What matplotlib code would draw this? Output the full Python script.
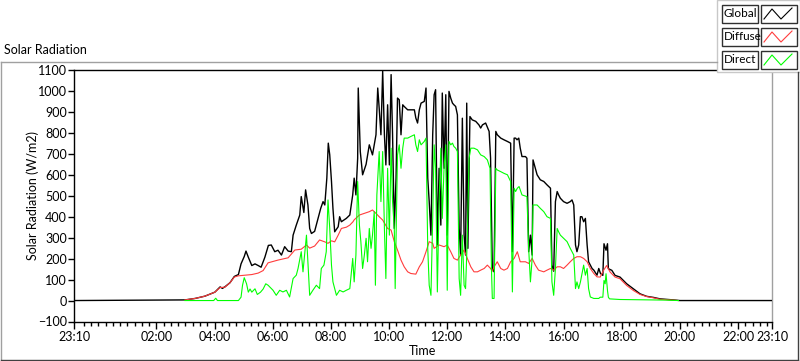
import numpy as np
import matplotlib
matplotlib.use("Agg")
import matplotlib.pyplot as plt
from matplotlib.patches import Rectangle

plt.rcParams['font.family'] = ['Lato', 'DejaVu Sans']

# times are clock hours of the day, values in W/m2
global_t = [2.98, 3.33, 3.67, 4.01, 4.19, 4.27, 4.36, 4.53, 4.68, 4.82, 4.91, 5.02, 5.08, 5.16,
            5.28, 5.39, 5.50, 5.60, 5.73, 5.85, 5.95, 6.07, 6.18, 6.30, 6.41, 6.53, 6.64, 6.70,
            6.81, 6.93, 6.98, 7.07, 7.13, 7.21, 7.27, 7.33, 7.44, 7.56, 7.65, 7.73, 7.79, 7.86,
            7.91, 7.96, 8.02, 8.07, 8.13, 8.25, 8.30, 8.36, 8.53, 8.65, 8.75, 8.80, 8.86, 8.92,
            8.94, 9.01, 9.09, 9.21, 9.32, 9.43, 9.55, 9.61, 9.66, 9.72, 9.78, 9.84, 9.89, 9.95,
            10.01, 10.07, 10.12, 10.18, 10.24, 10.29, 10.35, 10.41, 10.47, 10.52, 10.64, 10.75,
            10.87, 10.92, 10.98, 11.04, 11.10, 11.21, 11.27, 11.33, 11.38, 11.44, 11.50, 11.55,
            11.60, 11.66, 11.72, 11.78, 11.83, 11.89, 11.95, 12.00, 12.06, 12.12, 12.18, 12.23,
            12.29, 12.35, 12.41, 12.46, 12.52, 12.58, 12.63, 12.67, 12.71, 12.78, 12.86, 12.98,
            13.09, 13.15, 13.21, 13.32, 13.44, 13.49, 13.55, 13.61, 13.67, 13.72, 13.84, 13.95,
            14.07, 14.18, 14.24, 14.30, 14.35, 14.40, 14.46, 14.51, 14.57, 14.69, 14.74, 14.80,
            14.86, 14.92, 14.95, 15.03, 15.09, 15.20, 15.32, 15.43, 15.55, 15.60, 15.66, 15.72,
            15.78, 15.83, 15.89, 16.00, 16.12, 16.23, 16.29, 16.35, 16.41, 16.46, 16.52, 16.58,
            16.63, 16.69, 16.75, 16.81, 16.86, 16.92, 16.98, 17.04, 17.15, 17.21, 17.27, 17.35,
            17.39, 17.46, 17.51, 17.54, 17.66, 17.77, 17.94, 18.17, 18.40, 18.63, 18.86, 19.09,
            19.32, 19.78, 20.00]
global_v = [3, 10, 21, 40, 65, 58, 66, 85, 115, 124, 175, 210, 236, 207,
            167, 175, 167, 159, 207, 263, 265, 233, 240, 217, 257, 236, 233, 312,
            360, 408, 496, 420, 528, 456, 344, 320, 330, 392, 440, 472, 456, 584,
            751, 695, 568, 440, 328, 352, 400, 376, 392, 408, 504, 584, 504, 679,
            1014, 711, 600, 650, 743, 695, 791, 1014, 918, 791, 1094, 791, 647, 934,
            647, 1078, 791, 344, 584, 966, 958, 791, 934, 926, 910, 910,
            910, 871, 847, 910, 942, 950, 1014, 584, 472, 312, 791, 982,
            1006, 265, 631, 360, 990, 631, 982, 312, 998, 966, 942, 934,
            926, 886, 344, 217, 870, 312, 217, 942, 249, 878, 862, 855,
            838, 823, 838, 847, 807, 679, 153, 137, 807, 791, 775, 767,
            759, 751, 233, 775, 775, 767, 775, 727, 687, 687, 679, 233,
            312, 217, 671, 630, 600, 576, 568, 552, 536, 169, 140, 472,
            520, 504, 488, 472, 464, 472, 480, 456, 265, 233, 265, 400,
            400, 376, 392, 265, 185, 169, 153, 145, 121, 153, 129, 120,
            271, 240, 271, 152, 144, 120, 112, 80, 56, 32, 20, 15,
            8, 3, 0]

diffuse_t = [2.98, 3.33, 3.67, 4.01, 4.19, 4.36, 4.53, 4.68, 4.82, 5.28, 5.50, 5.67, 5.84,
             6.18, 6.53, 6.76, 6.98, 7.16, 7.27, 7.44, 7.61, 7.79, 7.90, 8.02, 8.13, 8.25,
             8.36, 8.53, 8.65, 8.76, 8.80, 8.98, 9.15, 9.32, 9.43, 9.55, 9.66, 9.78, 9.95,
             10.07, 10.18, 10.29, 10.41, 10.52, 10.64, 10.75, 10.92, 11.04, 11.15, 11.27,
             11.38, 11.50, 11.55, 11.72, 11.89, 12.00, 12.12, 12.23, 12.35, 12.46, 12.58,
             12.69, 12.81, 12.92, 13.04, 13.15, 13.27, 13.38, 13.49, 13.55, 13.61, 13.72,
             13.84, 13.95, 14.07, 14.18, 14.30, 14.41, 14.51, 14.69, 14.80, 14.92, 15.03,
             15.14, 15.32, 15.43, 15.55, 15.66, 15.78, 15.89, 16.00, 16.12, 16.23, 16.35,
             16.46, 16.58, 16.69, 16.81, 16.92, 17.04, 17.15, 17.26, 17.37, 17.48, 17.60,
             17.77, 17.94, 18.17, 18.40, 18.63, 18.86, 19.09, 19.32, 19.78, 19.95]
diffuse_v = [3, 10, 21, 40, 62, 64, 85, 112, 118, 124, 131, 143, 180,
             193, 204, 241, 245, 265, 250, 260, 289, 280, 273, 285, 280, 312,
             344, 350, 360, 376, 385, 408, 416, 424, 432, 416, 400, 384, 344,
             336, 281, 241, 193, 161, 137, 129, 126, 161, 185, 233,
             281, 273, 249, 265, 257, 265, 233, 201, 193, 217, 241,
             201, 161, 137, 137, 145, 153, 169, 153, 140, 161, 185,
             153, 145, 153, 185, 201, 233, 185, 185, 177, 201, 169,
             145, 137, 145, 153, 145, 161, 161, 153, 169, 185, 201,
             209, 209, 201, 185, 153, 129, 113, 112, 143, 167, 136,
             112, 104, 72, 48, 29, 19, 13, 6, 2, 0]

direct_t = [2.98, 3.97, 4.04, 4.10, 4.82, 4.91, 4.96, 5.02, 5.10, 5.16, 5.22, 5.28, 5.39,
            5.47, 5.58, 5.67, 5.76, 5.84, 6.01, 6.12, 6.24, 6.35, 6.47, 6.58, 6.70, 6.81,
            6.87, 6.98, 7.04, 7.16, 7.21, 7.27, 7.38, 7.50, 7.61, 7.67, 7.76, 7.84, 7.90,
            7.96, 8.02, 8.07, 8.19, 8.30, 8.42, 8.53, 8.65, 8.75, 8.80, 8.86, 8.92, 8.98,
            9.03, 9.09, 9.15, 9.21, 9.26, 9.32, 9.38, 9.43, 9.49, 9.53, 9.58, 9.66, 9.72,
            9.78, 9.84, 9.89, 9.95, 10.01, 10.07, 10.12, 10.18, 10.21, 10.29, 10.35, 10.41,
            10.47, 10.52, 10.64, 10.75, 10.87, 10.92, 10.98, 11.04, 11.10, 11.21, 11.27,
            11.33, 11.38, 11.44, 11.50, 11.55, 11.60, 11.66, 11.72, 11.78, 11.83, 11.89,
            11.95, 12.00, 12.06, 12.12, 12.18, 12.23, 12.29, 12.35, 12.41, 12.46, 12.52,
            12.58, 12.63, 12.69, 12.75, 12.81, 12.92, 13.04, 13.15, 13.27, 13.38, 13.47,
            13.52, 13.55, 13.61, 13.67, 13.72, 13.84, 13.95, 14.07, 14.18, 14.24, 14.30,
            14.35, 14.41, 14.47, 14.57, 14.74, 14.80, 14.86, 14.92, 14.95, 15.09, 15.20,
            15.32, 15.43, 15.55, 15.60, 15.66, 15.72, 15.78, 15.83, 15.89, 16.00, 16.12,
            16.23, 16.35, 16.41, 16.46, 16.52, 16.58, 16.69, 16.75, 16.81, 16.86, 16.92,
            17.04, 17.21, 17.26, 17.35, 17.39, 17.43, 17.46, 17.51, 17.54, 17.58, 17.94,
            18.40, 19.55, 19.95]
direct_v = [0, 0, 11, 0, 0, 16, 72, 109, 80, 40, 55, 40, 56,
            29, 40, 55, 80, 73, 49, 25, 49, 41, 49, 17, 105, 121,
            153, 233, 137, 312, 185, 25, 49, 73, 57, 153, 169, 233, 480,
            344, 169, 89, 25, 49, 41, 49, 57, 201, 89, 217, 568, 360,
            281, 153, 217, 297, 185, 344, 249, 312, 424, 73, 504, 711, 472,
            711, 344, 105, 631, 312, 727, 472, 344, 57, 695, 743, 631,
            727, 775, 775, 783, 791, 743, 711, 767, 743, 759, 775,
            249, 73, 25, 392, 743, 631, 41, 472, 727, 392, 631,
            743, 49, 759, 743, 751, 735, 727, 711, 105, 25, 312,
            73, 57, 297, 679, 727, 727, 719, 695, 687, 671, 631,
            153, 10, 10, 631, 623, 615, 607, 600, 568, 41, 536,
            520, 536, 544, 504, 496, 249, 89, 201, 456, 456, 440,
            424, 400, 392, 89, 25, 153, 344, 328, 312, 297, 281,
            249, 217, 57, 89, 57, 89, 169, 121, 153, 57, 17,
            10, 10, 16, 16, 96, 80, 128, 48, 16, 8, 5,
            4, 2, 0]

x_labels = ['23:10', '02:00', '04:00', '06:00', '08:00', '10:00', '12:00', '14:00',
            '16:00', '18:00', '20:00', '22:00', '23:10']

start = 23 + 10 / 60.0          # axis starts at 23:10 of the previous day


def to_axis(t):
    return np.asarray(t, dtype=float) + 24 - start


W, H = 800, 361
fig = plt.figure(figsize=(W / 100, H / 100), dpi=100)
fig.patch.set_facecolor('white')

L, R, T, B = 74, 772, 70, 321.5
ax = fig.add_axes([L / W, (H - B) / H, (R - L) / W, (B - T) / H])

gx = np.concatenate(([0], to_axis(global_t), [24]))
gy = np.concatenate(([0], global_v, [0]))
ax.plot(gx, gy, color='black', lw=1.0, zorder=3)
ax.plot(to_axis(diffuse_t), diffuse_v, color='#ff3c3c', lw=0.8, zorder=4)
ax.plot(to_axis(direct_t), direct_v, color='#00ff00', lw=0.8, zorder=5)

ax.set_xlim(0, 24)
ax.set_ylim(-100, 1100)
ax.set_yticks(np.arange(-100, 1101, 100))
ax.tick_params(axis='y', labelsize=9, length=4, width=1, pad=1, colors='black')

major = [0] + [h + 24 - start for h in range(2, 23, 2)] + [24]
ax.set_xticks(major)
ax.set_xticklabels(x_labels)
ax.set_xticks(np.arange(50 / 60 - 0.75, 24, 0.25)[1:], minor=True)
ax.tick_params(axis='x', which='major', labelsize=9, length=5, width=1, pad=2)
ax.tick_params(axis='x', which='minor', length=3, width=1)

for side in ['left', 'bottom', 'top']:
    ax.spines[side].set_color('black')
ax.spines['right'].set_color('#a0a0a0')
for s in ax.spines.values():
    s.set_linewidth(1)

ax.set_ylabel('Solar Radiation (W/m2)', fontsize=9)
ax.yaxis.set_label_coords(-0.05, 0.5)
ax.set_xlabel('Time', fontsize=9, labelpad=1)

# overlay in pixel coordinates for the frame, caption and legend
ov = fig.add_axes([0, 0, 1, 1], zorder=10)
ov.set_xlim(0, W)
ov.set_ylim(H, 0)
ov.axis('off')
ov.patch.set_alpha(0)

ov.plot([0.5, 717], [61.5, 61.5], color='#a0a0a0', lw=1)
ov.plot([0.5, 0.5], [61.5, 359.5], color='#a0a0a0', lw=1)
ov.plot([0.5, 797.5], [359.5, 359.5], color='#404040', lw=1)
ov.plot([797.5, 797.5], [72, 359.5], color='#404040', lw=1)
ov.text(4, 50, 'Solar Radiation', fontsize=9, va='center', ha='left')

ov.add_patch(Rectangle((717, 0), 83, 72, facecolor='white', edgecolor='#c8c8c8', lw=1))
names = ['Global', 'Diffuse', 'Direct']
cols = ['black', '#ff3c3c', '#00ff00']
for i, (nm, c) in enumerate(zip(names, cols)):
    y0 = 4 + i * 23
    ov.add_patch(Rectangle((721.5, y0 + 0.5), 36, 18, facecolor='white', edgecolor='#303030', lw=1))
    ov.add_patch(Rectangle((760.5, y0 + 0.5), 36, 18, facecolor='white', edgecolor='#303030', lw=1))
    ov.text(723.5, y0 + 9.5, nm, fontsize=8.5, va='center', ha='left')
    ov.plot([764, 772, 781, 792], [y0 + 15, y0 + 5, y0 + 15, y0 + 4], color=c, lw=0.8)

fig.savefig('out.png', dpi=100)
